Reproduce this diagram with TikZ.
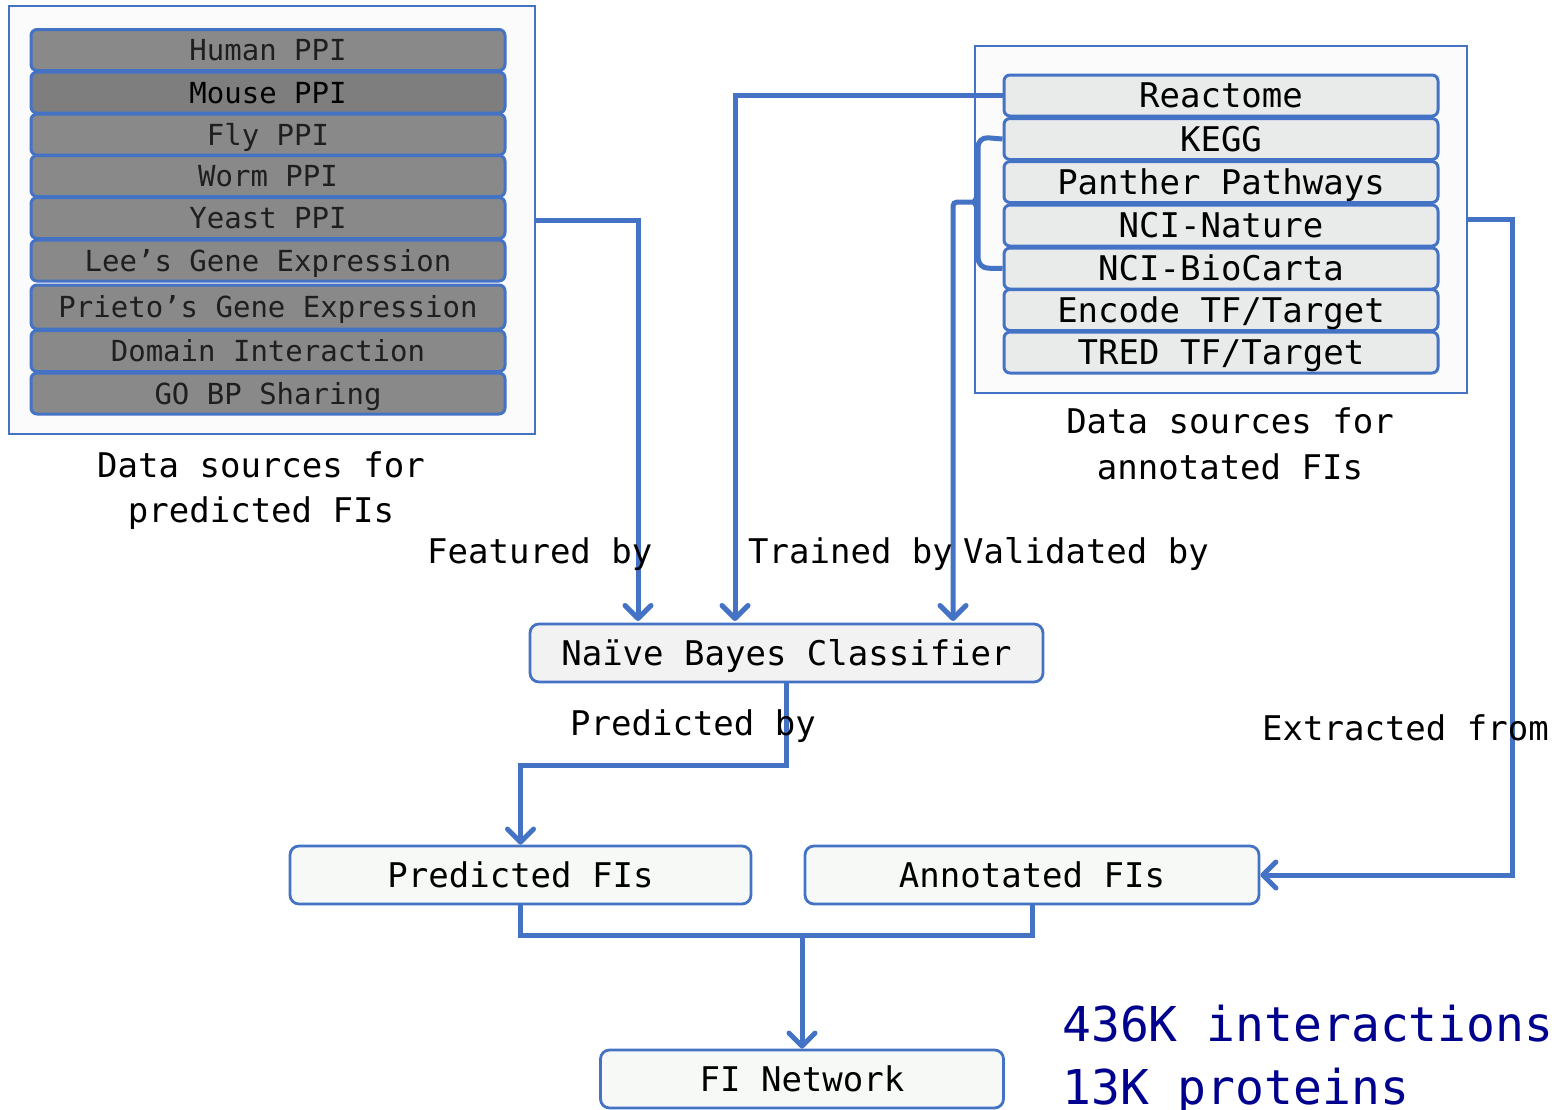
\documentclass[tikz,border=0pt]{standalone}
\usepackage{fontspec}
\setmainfont{DejaVu Sans Mono}
\usetikzlibrary{arrows.meta}
\definecolor{bl}{HTML}{4472C4}
\definecolor{rowgray}{HTML}{898989}
\definecolor{rowdark}{HTML}{7E7E7E}
\definecolor{rowlight}{HTML}{E9EBEA}
\definecolor{outerfill}{HTML}{FBFBFB}
\definecolor{nbfill}{HTML}{F2F2F2}
\definecolor{fifill}{HTML}{F6F9F6}
\definecolor{navytext}{HTML}{00008E}
\newcommand{\fsA}{\fontsize{34}{41}\selectfont}
\newcommand{\fsB}{\fontsize{29}{35}\selectfont}
\newcommand{\fsC}{\fontsize{48}{58}\selectfont}
\begin{document}
\begin{tikzpicture}[x=1pt,y=-1pt,
  outerbox/.style={draw=bl, line width=2.5pt, fill=outerfill, inner sep=0},
  leftrow/.style={draw=bl, line width=3pt, rounded corners=6pt, fill=rowgray,
    minimum width=474pt, minimum height=41pt, inner sep=0, font=\fsB,
    text=black!88, text height=21pt, text depth=0pt},
  rightrow/.style={draw=bl, line width=3pt, rounded corners=6pt, fill=rowlight,
    minimum width=434pt, minimum height=41pt, inner sep=0, font=\fsA,
    text=black, text height=24pt, text depth=0pt},
  mainbox/.style={draw=bl, line width=2.8pt, rounded corners=9pt, inner sep=0,
    minimum height=58pt, font=\fsA, text height=24pt, text depth=0pt},
  lbl/.style={font=\fsA, inner sep=0, anchor=base west},
  lblc/.style={font=\fsA, inner sep=0, anchor=base},
  conn/.style={draw=bl, line width=5pt},
  arr/.style={conn, -{Straight Barb[length=13pt,width=26pt,line width=5pt,round]}}
]
\useasboundingbox (0,0) rectangle (1567,1109);

% left outer box
\node[outerbox, minimum width=526pt, minimum height=428pt] (leftouter) at (272,220) {};
\node[leftrow] (r1) at (268,50) {Human PPI};
\node[leftrow, fill=rowdark, text=black] (r2) at (268,92.5) {Mouse PPI};
\node[leftrow] (r3) at (268,134.5) {Fly PPI};
\node[leftrow] (r4) at (268,176) {Worm PPI};
\node[leftrow] (r5) at (268,218) {Yeast PPI};
\node[leftrow] (r6) at (268,260.5) {Lee’s Gene Expression};
\node[leftrow, minimum height=44pt] (r7) at (268,307) {Prieto’s Gene Expression};
\node[leftrow] (r8) at (268,351) {Domain Interaction};
\node[leftrow] (r9) at (268,393.5) {GO BP Sharing};

% right outer box
\node[outerbox, minimum width=492pt, minimum height=347pt] (rightouter) at (1221,219.5) {};
\node[rightrow] (s1) at (1221,95.5) {Reactome};
\node[rightrow] (s2) at (1221,139) {KEGG};
\node[rightrow] (s3) at (1221,182) {Panther Pathways};
\node[rightrow] (s4) at (1221,225.5) {NCI-Nature};
\node[rightrow] (s5) at (1221,268.5) {NCI-BioCarta};
\node[rightrow] (s6) at (1221,310) {Encode TF/Target};
\node[rightrow] (s7) at (1221,352.5) {TRED TF/Target};

% captions
\node[lblc] (capL1) at (261,477) {Data sources for};
\node[lblc] (capL2) at (261,522) {predicted FIs};
\node[lblc] (capR1) at (1230,433) {Data sources for};
\node[lblc] (capR2) at (1230,479) {annotated FIs};

% main boxes
\node[mainbox, fill=nbfill, minimum width=513pt] (nb) at (786.5,653) {Naïve Bayes Classifier};
\node[mainbox, fill=fifill, minimum width=461pt] (pred) at (520.5,875) {Predicted FIs};
\node[mainbox, fill=fifill, minimum width=454pt] (annot) at (1032,875) {Annotated FIs};
\node[mainbox, fill=fifill, minimum width=403pt] (finet) at (802,1079) {FI Network};

% connector helpers
\coordinate (featEnd) at (638,621);
\coordinate (trainEnd) at (735,621);
\coordinate (bracketTip) at (974,202);
\coordinate (valEnd) at (953,621);
\coordinate (merge) at (802,935);

% connectors
\draw[arr] (leftouter.east) -| (featEnd);
\draw[arr] (s1.west) -| (trainEnd);
\draw[conn, rounded corners=10pt] (s2.west) -- (978,137) -- (978,268) -- (s5.west);
\draw[conn, line join=round] (978,195) -- (bracketTip) -- (978,209);
\draw[arr, rounded corners=4pt] (bracketTip) -| (valEnd);
\draw[arr] (rightouter.east) -- (1512,219.5) |- (annot.east);
\draw[arr] (nb.south) |- (600,765) -| (pred.north);
\draw[conn] (pred.south) |- (merge) -| (annot.south);
\draw[arr] (merge) -- (finet.north);

% connector labels
\node[lbl] (lfeat) at (427,563) {Featured by};
\node[lbl] (ltrain) at (748,563) {Trained by};
\node[lbl] (lval) at (963,563) {Validated by};
\node[lbl] (lpred) at (570,735) {Predicted by};
\node[lbl] (lext) at (1262,740) {Extracted from};

% stats
\node[font=\fsC, text=navytext, inner sep=0, anchor=base west] (stat1) at (1062,1041) {436K interactions};
\node[font=\fsC, text=navytext, inner sep=0, anchor=base west] (stat2) at (1062,1104) {13K proteins};
\end{tikzpicture}
\end{document}
